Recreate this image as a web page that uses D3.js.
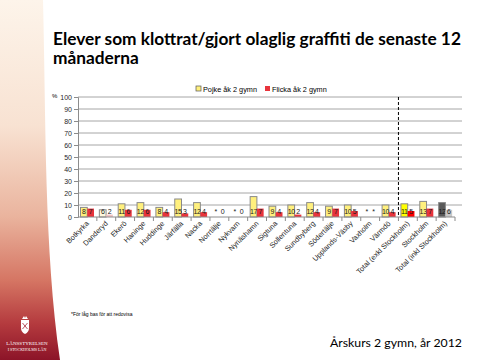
<!DOCTYPE html>
<html>
<head>
<meta charset="utf-8">
<script src="https://cdn.jsdelivr.net/npm/d3@7"></script>
<style>
  body { margin: 0; background: #fff; }
  svg { display: block; }
</style>
</head>
<body>
<div id="chart"></div>
<script>
// chart data
var categories = ["Botkyrka", "Danderyd", "Ekerö", "Haninge", "Huddinge", "Järfälla",
    "Nacka", "Norrtälje", "Nykvarn", "Nynäshamn", "Sigtuna", "Sollentuna",
    "Sundbyberg", "Södertälje", "Upplands-Väsby", "Vaxholm", "Värmdö",
    "Total (exkl Stockholm)", "Stockholm", "Total (inkl Stockholm)"];
var boys  = [8, 6, 11, 12, 8, 15, 12, null, null, 17, 9, 10, 12, 9, 10, null, 10, 11, 13, 12];
var girls = [7, 2, 6, 6, 4, 3, 4, 0, 0, 7, 4, 2, 4, 7, 5, null, 4, 5, 7, 6];
var seriesNames = ["Pojke åk 2 gymn", "Flicka åk 2 gymn"];
var yTicks = [0, 10, 20, 30, 40, 50, 60, 70, 80, 90, 100];
var lowBase = ["Danderyd"];

var W = 480, H = 360
  , margin = {top: 97, left: 78, right: 18, bottom: 143}
  , width = W - margin.left - margin.right
  , height = H - margin.top - margin.bottom
;

var svg = d3.select("#chart").append("svg")
    .attr("width", W)
    .attr("height", H)
;

/*
** left decorative strip
*/
var defs = svg.append("defs");
var grad = defs.append("linearGradient")
    .attr("id", "strip")
    .attr("x1", 0).attr("y1", 0).attr("x2", 0).attr("y2", 1)
;
[["0", "#fdf4ea"], ["0.35", "#f8e2d2"], ["0.6", "#eab49e"], ["0.78", "#d57563"],
 ["0.9", "#b43a3e"], ["1", "#8c1428"]].forEach(function(s) {
    grad.append("stop").attr("offset", s[0]).attr("stop-color", s[1]);
});
svg.append("path")
    .attr("d", "M0,0 L43,0 C46,120 44,250 60,360 L0,360 Z")
    .attr("fill", "url(#strip)")
;
// tiny crest + agency name
var crest = svg.append("g").attr("transform", "translate(25,325)");
crest.append("path")
    .attr("d", "M-3,-6 L-1,-9 L0,-7 L1,-9 L3,-6 Z")
    .attr("fill", "#fff");
crest.append("path")
    .attr("d", "M-4,-5 L4,-5 L4,3 Q4,7 0,9 Q-4,7 -4,3 Z")
    .attr("fill", "#fff");
crest.append("path")
    .attr("d", "M-2.5,-2 L2.5,4 M2.5,-2 L-2.5,4")
    .attr("stroke", "#a8283a").attr("stroke-width", 0.8);
svg.append("text")
    .attr("x", 27).attr("y", 345)
    .attr("text-anchor", "middle")
    .style("font-family", "Liberation Serif")
    .style("font-size", "5px")
    .attr("fill", "#fff")
    .text("LÄNSSTYRELSEN");
svg.append("text")
    .attr("x", 27).attr("y", 351)
    .attr("text-anchor", "middle")
    .style("font-family", "Liberation Serif")
    .style("font-size", "4px")
    .attr("fill", "#fff")
    .text("I STOCKHOLMS LÄN");

/*
** title and footers
*/
var title = svg.append("text")
    .style("font-family", "Lato")
    .style("font-weight", "bold")
    .style("font-size", "17.3px")
    .attr("fill", "#000");
title.append("tspan").attr("x", 53).attr("y", 45)
    .text("Elever som klottrat/gjort olaglig graffiti de senaste 12");
title.append("tspan").attr("x", 53).attr("y", 64)
    .text("månaderna");

svg.append("text")
    .attr("x", 71).attr("y", 316)
    .style("font-family", "Liberation Sans")
    .style("font-size", "5px")
    .text("*För låg bas för att redovisa");

svg.append("text")
    .attr("x", 462).attr("y", 347)
    .attr("text-anchor", "end")
    .style("font-family", "Lato")
    .style("font-size", "12.3px")
    .text("Årskurs 2 gymn, år 2012");

/*
** scales
*/
var x = d3.scaleBand()
    .domain(categories)
    .range([0, 377])
    .paddingInner(0)
;
var xs = d3.scaleBand()
    .domain([0, 1])
    .range([2.5, 16])
    .paddingInner(0)
;
var y = d3.scaleLinear()
    .domain([0, 100])
    .range([height, 0])
;

var canvas = svg.append("g")
    .attr("transform", "translate(" + margin.left + "," + margin.top + ")")
;

// gridlines
canvas.append("g")
    .selectAll("line")
    .data(yTicks.slice(1))
  .enter().append("line")
    .attr("x1", 0).attr("x2", width)
    .attr("y1", function(d) { return y(d); })
    .attr("y2", function(d) { return y(d); })
    .attr("stroke", "#a6a6a6")
    .attr("stroke-width", 1)
;

// y axis
var yAxis = d3.axisLeft(y).tickValues(yTicks).tickSize(4).tickPadding(2);
canvas.append("g")
    .attr("class", "axis axis--y")
    .call(yAxis)
;
canvas.select(".axis--y").select(".domain").attr("stroke", "#8c8c8c");
canvas.select(".axis--y").selectAll("line").attr("stroke", "#8c8c8c");
canvas.select(".axis--y").selectAll("text")
    .style("font-family", "Liberation Sans")
    .style("font-size", "7px")
    .attr("fill", "#1f1f1f");
svg.append("text")
    .attr("x", 52).attr("y", 98)
    .style("font-family", "Liberation Sans")
    .style("font-size", "6px")
    .text("%");

// bars
var series = [boys, girls];
function fillFor(s, i) {
    var c = categories[i];
    if (c === "Total (exkl Stockholm)") return s === 0 ? "#ffff00" : "#ff0000";
    if (c === "Total (inkl Stockholm)") return s === 0 ? "#595959" : "#c8c8c8";
    if (lowBase.indexOf(c) >= 0) return s === 0 ? "#fff8dc" : "#f3c3c3";
    return s === 0 ? "#fff07d" : "#e8343c";
}

var groups = canvas.selectAll(".cat")
    .data(categories)
  .enter().append("g")
    .attr("class", "cat")
    .attr("transform", function(d) { return "translate(" + x(d) + ",0)"; })
;
groups.each(function(c, i) {
    var g = d3.select(this);
    series.forEach(function(vals, s) {
        var v = vals[i];
        if (v !== null && v > 0) {
            g.append("rect")
                .attr("x", xs(s))
                .attr("width", xs.bandwidth())
                .attr("y", y(v))
                .attr("height", y(0) - y(v))
                .attr("fill", fillFor(s, i))
                .attr("stroke", s === 0 ? "#8a8a8a" : "none")
                .attr("stroke-width", 1)
            ;
        }
        g.append("text")
            .attr("x", xs(s) + xs.bandwidth() / 2)
            .attr("y", height - 3)
            .attr("text-anchor", "middle")
            .style("font-family", "Liberation Sans Narrow, Liberation Sans")
            .style("font-size", "7px")
            .style("letter-spacing", "-0.3px")
            .attr("fill", "#1a1a1a")
            .text(v === null ? "*" : v)
        ;
    });
});

// x axis
canvas.append("line")
    .attr("x1", 0).attr("x2", x.range()[1])
    .attr("y1", height).attr("y2", height)
    .attr("stroke", "#8c8c8c");
canvas.append("g")
    .selectAll("line")
    .data(categories)
  .enter().append("line")
    .attr("x1", function(d) { return x(d) + x.bandwidth(); })
    .attr("x2", function(d) { return x(d) + x.bandwidth(); })
    .attr("y1", height).attr("y2", height + 4)
    .attr("stroke", "#8c8c8c");
canvas.append("g")
    .selectAll("text")
    .data(categories)
  .enter().append("text")
    .attr("transform", function(d) {
        return "translate(" + (x(d) + x.bandwidth() / 2 + 2) + "," + (height + 7) + ") rotate(-45)";
    })
    .attr("text-anchor", "end")
    .style("font-family", "Liberation Sans")
    .style("font-size", "7.3px")
    .attr("fill", "#262626")
    .text(function(d) { return d; })
;

// dashed divider before totals
canvas.append("line")
    .attr("x1", x("Total (exkl Stockholm)"))
    .attr("x2", x("Total (exkl Stockholm)"))
    .attr("y1", 0).attr("y2", height)
    .attr("stroke", "#000")
    .attr("stroke-dasharray", "3,2")
;

// legend
var legend = svg.append("g").attr("transform", "translate(196,86)");
seriesNames.forEach(function(n, s) {
    var lg = legend.append("g").attr("transform", "translate(" + (s * 69) + ",0)");
    lg.append("rect")
        .attr("width", 5).attr("height", 5)
        .attr("fill", s === 0 ? "#fff07d" : "#e8343c")
        .attr("stroke", s === 0 ? "#555" : "none")
        .attr("stroke-width", 0.7);
    lg.append("text")
        .attr("x", 7).attr("y", 5.5)
        .style("font-family", "Liberation Sans")
        .style("font-size", "7.3px")
        .text(n);
});
</script>
</body>
</html>
